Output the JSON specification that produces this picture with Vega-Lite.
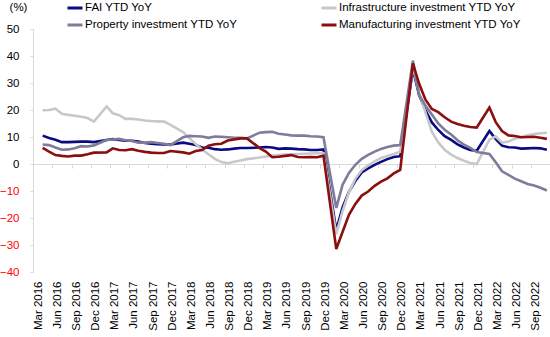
{
  "$schema": "https://vega.github.io/schema/vega-lite/v6.json",
  "width": 517,
  "height": 243,
  "autosize": "none",
  "padding": {"left": 33, "top": 29, "right": 0, "bottom": 65},
  "background": "white",
  "config": {"view": {"stroke": null}, "font": "Liberation Sans"},
  "data": {
    "values": [
      {"month": "2016-04", "fai": 10.5, "infra": 19.9, "prop": 7.2, "mfg": 6.0},
      {"month": "2016-05", "fai": 9.6, "infra": 20.0, "prop": 7.0, "mfg": 4.6},
      {"month": "2016-06", "fai": 9.0, "infra": 20.5, "prop": 6.1, "mfg": 3.3},
      {"month": "2016-07", "fai": 8.1, "infra": 18.6, "prop": 5.3, "mfg": 3.0},
      {"month": "2016-08", "fai": 8.1, "infra": 18.2, "prop": 5.4, "mfg": 2.8},
      {"month": "2016-09", "fai": 8.2, "infra": 17.9, "prop": 5.8, "mfg": 3.1},
      {"month": "2016-10", "fai": 8.3, "infra": 17.5, "prop": 6.6, "mfg": 3.1},
      {"month": "2016-11", "fai": 8.3, "infra": 17.0, "prop": 6.5, "mfg": 3.6},
      {"month": "2016-12", "fai": 8.1, "infra": 15.7, "prop": 6.9, "mfg": 4.2},
      {"month": "2017-02", "fai": 8.9, "infra": 21.3, "prop": 8.9, "mfg": 4.3},
      {"month": "2017-03", "fai": 9.2, "infra": 18.8, "prop": 9.1, "mfg": 5.8},
      {"month": "2017-04", "fai": 8.9, "infra": 18.1, "prop": 9.3, "mfg": 5.2},
      {"month": "2017-05", "fai": 8.6, "infra": 16.7, "prop": 8.8, "mfg": 5.1},
      {"month": "2017-06", "fai": 8.6, "infra": 16.7, "prop": 8.5, "mfg": 5.5},
      {"month": "2017-07", "fai": 8.3, "infra": 16.5, "prop": 7.9, "mfg": 4.9},
      {"month": "2017-08", "fai": 7.8, "infra": 16.1, "prop": 7.9, "mfg": 4.5},
      {"month": "2017-09", "fai": 7.5, "infra": 15.9, "prop": 8.1, "mfg": 4.2},
      {"month": "2017-10", "fai": 7.3, "infra": 15.8, "prop": 7.8, "mfg": 4.1},
      {"month": "2017-11", "fai": 7.2, "infra": 15.7, "prop": 7.5, "mfg": 4.1},
      {"month": "2017-12", "fai": 7.2, "infra": 14.5, "prop": 7.0, "mfg": 4.8},
      {"month": "2018-02", "fai": 7.9, "infra": 11.8, "prop": 9.9, "mfg": 4.3},
      {"month": "2018-03", "fai": 7.5, "infra": 9.6, "prop": 10.4, "mfg": 3.8},
      {"month": "2018-04", "fai": 7.0, "infra": 7.4, "prop": 10.3, "mfg": 4.8},
      {"month": "2018-05", "fai": 6.1, "infra": 5.4, "prop": 10.2, "mfg": 5.2},
      {"month": "2018-06", "fai": 6.0, "infra": 3.6, "prop": 9.7, "mfg": 6.8},
      {"month": "2018-07", "fai": 5.5, "infra": 1.9, "prop": 10.2, "mfg": 7.3},
      {"month": "2018-08", "fai": 5.3, "infra": 0.7, "prop": 10.1, "mfg": 7.5},
      {"month": "2018-09", "fai": 5.4, "infra": 0.3, "prop": 9.9, "mfg": 8.7},
      {"month": "2018-10", "fai": 5.7, "infra": 0.8, "prop": 9.7, "mfg": 9.1},
      {"month": "2018-11", "fai": 5.9, "infra": 1.3, "prop": 9.7, "mfg": 9.5},
      {"month": "2018-12", "fai": 5.9, "infra": 1.8, "prop": 9.5, "mfg": 9.5},
      {"month": "2019-02", "fai": 6.1, "infra": 2.4, "prop": 11.6, "mfg": 5.9},
      {"month": "2019-03", "fai": 6.3, "infra": 2.8, "prop": 11.8, "mfg": 4.6},
      {"month": "2019-04", "fai": 6.1, "infra": 3.1, "prop": 11.9, "mfg": 2.5},
      {"month": "2019-05", "fai": 5.6, "infra": 3.3, "prop": 11.2, "mfg": 2.7},
      {"month": "2019-06", "fai": 5.8, "infra": 3.5, "prop": 10.9, "mfg": 3.0},
      {"month": "2019-07", "fai": 5.7, "infra": 3.6, "prop": 10.6, "mfg": 3.3},
      {"month": "2019-08", "fai": 5.5, "infra": 3.7, "prop": 10.5, "mfg": 2.6},
      {"month": "2019-09", "fai": 5.4, "infra": 3.8, "prop": 10.5, "mfg": 2.5},
      {"month": "2019-10", "fai": 5.2, "infra": 3.9, "prop": 10.3, "mfg": 2.6},
      {"month": "2019-11", "fai": 5.2, "infra": 4.0, "prop": 10.2, "mfg": 2.5},
      {"month": "2019-12", "fai": 5.4, "infra": 4.0, "prop": 9.9, "mfg": 3.1},
      {"month": "2020-02", "fai": -24.5, "infra": -26.0, "prop": -16.3, "mfg": -31.5},
      {"month": "2020-03", "fai": -16.1, "infra": -17.5, "prop": -7.7, "mfg": -25.2},
      {"month": "2020-04", "fai": -10.3, "infra": -10.5, "prop": -3.3, "mfg": -18.8},
      {"month": "2020-05", "fai": -6.3, "infra": -5.5, "prop": -0.3, "mfg": -14.8},
      {"month": "2020-06", "fai": -3.1, "infra": -2.3, "prop": 1.9, "mfg": -11.7},
      {"month": "2020-07", "fai": -1.6, "infra": -0.5, "prop": 3.4, "mfg": -10.2},
      {"month": "2020-08", "fai": -0.3, "infra": 1.0, "prop": 4.6, "mfg": -8.1},
      {"month": "2020-09", "fai": 0.8, "infra": 2.2, "prop": 5.6, "mfg": -6.5},
      {"month": "2020-10", "fai": 1.8, "infra": 3.0, "prop": 6.3, "mfg": -5.3},
      {"month": "2020-11", "fai": 2.6, "infra": 3.7, "prop": 6.8, "mfg": -3.5},
      {"month": "2020-12", "fai": 2.9, "infra": 4.5, "prop": 7.0, "mfg": -2.2},
      {"month": "2021-02", "fai": 35.0, "infra": 36.0, "prop": 38.3, "mfg": 37.3},
      {"month": "2021-03", "fai": 25.6, "infra": 26.5, "prop": 25.6, "mfg": 29.8},
      {"month": "2021-04", "fai": 19.9, "infra": 19.0, "prop": 21.6, "mfg": 23.8},
      {"month": "2021-05", "fai": 15.4, "infra": 12.0, "prop": 18.3, "mfg": 20.4},
      {"month": "2021-06", "fai": 12.6, "infra": 8.0, "prop": 15.0, "mfg": 19.2},
      {"month": "2021-07", "fai": 10.3, "infra": 5.3, "prop": 12.7, "mfg": 17.3},
      {"month": "2021-08", "fai": 8.9, "infra": 3.5, "prop": 10.9, "mfg": 15.7},
      {"month": "2021-09", "fai": 7.3, "infra": 2.2, "prop": 8.8, "mfg": 14.8},
      {"month": "2021-10", "fai": 6.1, "infra": 1.2, "prop": 7.2, "mfg": 14.2},
      {"month": "2021-11", "fai": 5.2, "infra": 0.4, "prop": 6.0, "mfg": 13.7},
      {"month": "2021-12", "fai": 4.9, "infra": 0.0, "prop": 4.4, "mfg": 13.5},
      {"month": "2022-02", "fai": 12.2, "infra": 9.0, "prop": 3.7, "mfg": 20.9},
      {"month": "2022-03", "fai": 9.3, "infra": 10.2, "prop": 0.7, "mfg": 15.6},
      {"month": "2022-04", "fai": 6.8, "infra": 7.9, "prop": -2.7, "mfg": 12.2},
      {"month": "2022-05", "fai": 6.2, "infra": 8.3, "prop": -4.0, "mfg": 10.6},
      {"month": "2022-06", "fai": 6.1, "infra": 9.4, "prop": -5.4, "mfg": 10.4},
      {"month": "2022-07", "fai": 5.7, "infra": 9.9, "prop": -6.4, "mfg": 9.9},
      {"month": "2022-08", "fai": 5.8, "infra": 10.6, "prop": -7.4, "mfg": 10.0},
      {"month": "2022-09", "fai": 5.9, "infra": 11.1, "prop": -8.0, "mfg": 10.1},
      {"month": "2022-10", "fai": 5.8, "infra": 11.4, "prop": -8.8, "mfg": 9.7},
      {"month": "2022-11", "fai": 5.3, "infra": 11.6, "prop": -9.8, "mfg": 9.3}
    ]
  },
  "transform": [{"fold": ["fai", "infra", "prop", "mfg"], "as": ["series", "value"]}],
  "mark": {"type": "line", "strokeWidth": 2.6, "interpolate": "linear"},
  "encoding": {
    "x": {
      "field": "month",
      "type": "temporal",
      "timeUnit": "utcyearmonth",
      "bandPosition": 0.5,
      "scale": {"domain": [{"year": 2016, "month": 3, "date": 1, "utc": true}, {"year": 2022, "month": 12, "date": 1, "utc": true}]},
      "axis": {
        "values": [
          {"year": 2016, "month": 3, "date": 1, "utc": true}, {"year": 2016, "month": 6, "date": 1, "utc": true}, {"year": 2016, "month": 9, "date": 1, "utc": true}, {"year": 2016, "month": 12, "date": 1, "utc": true},
          {"year": 2017, "month": 3, "date": 1, "utc": true}, {"year": 2017, "month": 6, "date": 1, "utc": true}, {"year": 2017, "month": 9, "date": 1, "utc": true}, {"year": 2017, "month": 12, "date": 1, "utc": true},
          {"year": 2018, "month": 3, "date": 1, "utc": true}, {"year": 2018, "month": 6, "date": 1, "utc": true}, {"year": 2018, "month": 9, "date": 1, "utc": true}, {"year": 2018, "month": 12, "date": 1, "utc": true},
          {"year": 2019, "month": 3, "date": 1, "utc": true}, {"year": 2019, "month": 6, "date": 1, "utc": true}, {"year": 2019, "month": 9, "date": 1, "utc": true}, {"year": 2019, "month": 12, "date": 1, "utc": true},
          {"year": 2020, "month": 3, "date": 1, "utc": true}, {"year": 2020, "month": 6, "date": 1, "utc": true}, {"year": 2020, "month": 9, "date": 1, "utc": true}, {"year": 2020, "month": 12, "date": 1, "utc": true},
          {"year": 2021, "month": 3, "date": 1, "utc": true}, {"year": 2021, "month": 6, "date": 1, "utc": true}, {"year": 2021, "month": 9, "date": 1, "utc": true}, {"year": 2021, "month": 12, "date": 1, "utc": true},
          {"year": 2022, "month": 3, "date": 1, "utc": true}, {"year": 2022, "month": 6, "date": 1, "utc": true}, {"year": 2022, "month": 9, "date": 1, "utc": true}
        ],
        "format": "%b %Y",
        "labelAngle": -90,
        "labelOffset": 5,
        "labelPadding": 113,
        "labelFlush": false,
        "labelOverlap": false,
        "labelBound": false,
        "labelFontSize": 11.5,
        "labelColor": "#000000",
        "offset": -108,
        "tickSize": 4,
        "tickColor": "#D9D9D9",
        "domainColor": "#D9D9D9",
        "grid": false,
        "title": null
      }
    },
    "y": {
      "field": "value",
      "type": "quantitative",
      "scale": {"domain": [-40, 50], "nice": false},
      "axis": {
        "values": [-40, -30, -20, -10, 0, 10, 20, 30, 40, 50],
        "grid": false,
        "tickSize": 3,
        "tickColor": "#D9D9D9",
        "domainColor": "#D9D9D9",
        "labelPadding": 11,
        "labelFontSize": 11.5,
        "labelColor": {"condition": {"test": "datum.value < 0", "value": "#FF0000"}, "value": "#000000"},
        "title": "(%)",
        "titleAngle": 0,
        "titleX": -15,
        "titleY": -22,
        "titleAlign": "center",
        "titleBaseline": "middle",
        "titleFontWeight": "normal",
        "titleFontSize": 11.5,
        "titleColor": "#000000"
      }
    },
    "color": {
      "field": "series",
      "type": "nominal",
      "scale": {"domain": ["fai", "infra", "prop", "mfg"], "range": ["#0A0A82", "#C8C8C8", "#7F7B9A", "#8B0F0F"]},
      "legend": {
        "orient": "none",
        "direction": "horizontal",
        "legendX": 33,
        "legendY": -30,
        "columns": 2,
        "columnPadding": 77,
        "rowPadding": 2,
        "padding": 0,
        "symbolType": "stroke",
        "symbolSize": 225,
        "symbolStrokeWidth": 3,
        "labelFontSize": 11.5,
        "labelColor": "#000000",
        "labelOffset": 1,
        "labelLimit": 300,
        "title": null,
        "labelExpr": "datum.value == 'fai' ? 'FAI YTD YoY' : datum.value == 'infra' ? 'Infrastructure investment YTD YoY' : datum.value == 'prop' ? 'Property investment YTD YoY' : 'Manufacturing investment YTD YoY'"
      }
    }
  }
}
